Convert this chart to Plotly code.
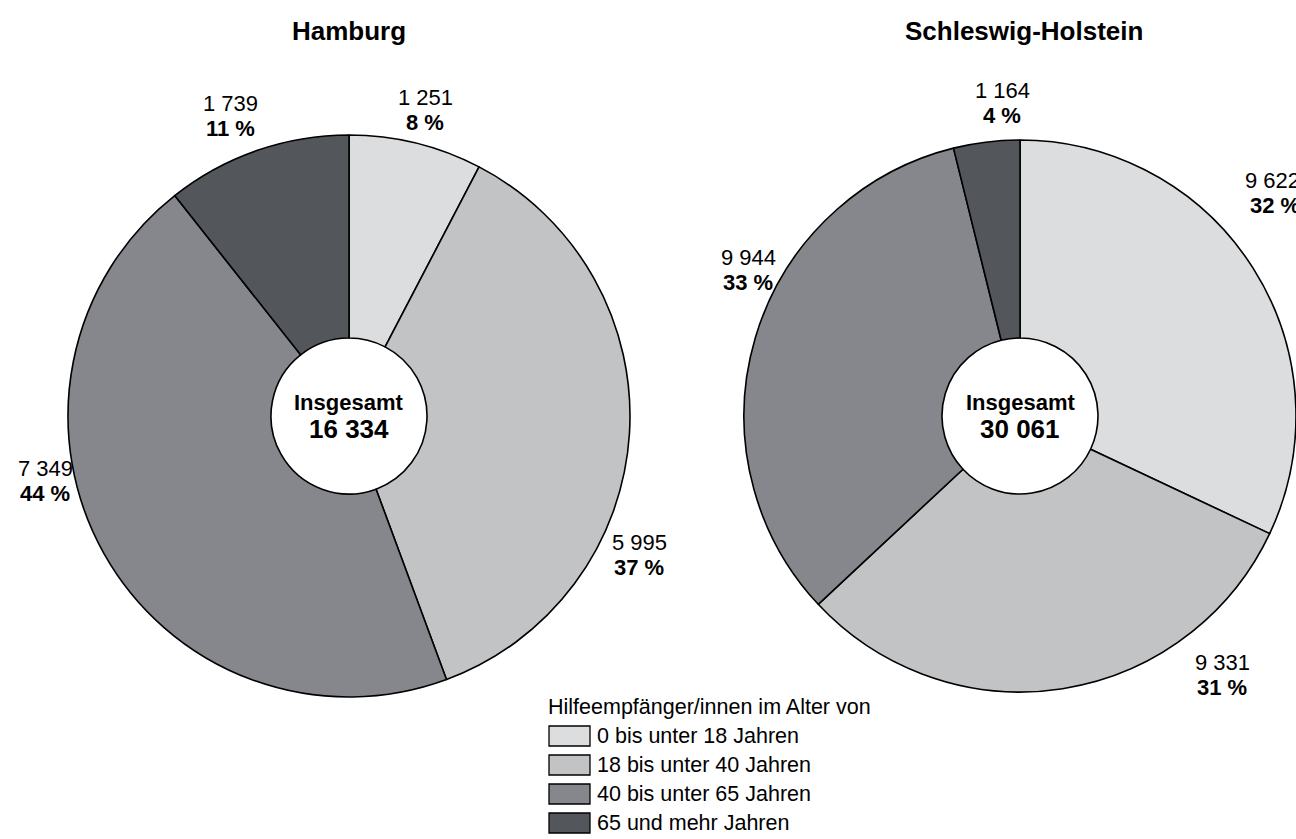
import plotly.graph_objects as go

# ---------------- data ----------------
categories = ["0 bis unter 18 Jahren", "18 bis unter 40 Jahren",
              "40 bis unter 65 Jahren", "65 und mehr Jahren"]
hamburg_values = [1251, 5995, 7349, 1739]
hamburg_pct = [8, 37, 44, 11]
sh_values = [9622, 9331, 9944, 1164]
sh_pct = [32, 31, 33, 4]
regions = ["Hamburg", "Schleswig-Holstein"]
legend_title = "Hilfeempfänger/innen im Alter von"
center_label = "Insgesamt"

colors = ["#dcdddf", "#c2c3c5", "#86878c", "#53575b"]

# ---------------- layout helpers ----------------
W, H = 1296, 839
FONT = "Liberation Sans, Arial, sans-serif"


def px(x):
    """pixel x -> paper fraction"""
    return x / W


def py(y):
    """pixel y -> paper fraction"""
    return 1 - y / H


def fmt(v):
    return f"{v:,}".replace(",", " ")


# pie geometry (pixels)
pies = [
    dict(cx=349, cy=416, r=281, values=hamburg_values, pct=hamburg_pct, name=regions[0],
         offs=[(76, -306), (290, 139), (-304, 65), (-118, -300)],
         anchors=["center", "center", "center", "center"]),
    dict(cx=1020, cy=416, r=276, values=sh_values, pct=sh_pct, name=regions[1],
         offs=[(282, -223), (202, 259), (-272, -146), (-18, -313)],
         anchors=["right", "center", "center", "center"]),
]
title_x = [349, 1024]

hole_px = 78
LBL = 22

fig = go.Figure()
annotations = []
shapes = []

for p, tx in zip(pies, title_x):
    fig.add_trace(go.Pie(
        labels=categories,
        values=p["values"],
        sort=False,
        direction="clockwise",
        rotation=0,
        hole=hole_px / p["r"],
        marker=dict(colors=colors, line=dict(color="black", width=1.6)),
        textinfo="none",
        hoverinfo="label+value+percent",
        showlegend=False,
        domain=dict(x=[max(0, px(p["cx"] - p["r"])), min(1, px(p["cx"] + p["r"]))],
                    y=[py(p["cy"] + p["r"]), py(p["cy"] - p["r"])]),
    ))
    # title
    annotations.append(dict(x=px(tx), y=py(31), xref="paper", yref="paper",
                            text=f"<b>{p['name']}</b>", showarrow=False,
                            font=dict(size=26, family=FONT, color="black"),
                            xanchor="center", yanchor="middle"))
    # centre total
    total = sum(p["values"])
    annotations.append(dict(x=px(p["cx"]), y=py(p["cy"] - 13), xref="paper", yref="paper",
                            text=f"<b>{center_label}</b>", showarrow=False,
                            font=dict(size=22, family=FONT, color="black"),
                            xanchor="center", yanchor="middle"))
    annotations.append(dict(x=px(p["cx"]), y=py(p["cy"] + 13), xref="paper", yref="paper",
                            text=f"<b>{fmt(total)}</b>", showarrow=False,
                            font=dict(size=26, family=FONT, color="black"),
                            xanchor="center", yanchor="middle"))
    # slice labels
    for v, pc, (dx, dy), anc in zip(p["values"], p["pct"], p["offs"], p["anchors"]):
        annotations.append(dict(x=px(p["cx"] + dx), y=py(p["cy"] + dy - 12.5), xref="paper", yref="paper",
                                text=fmt(v), showarrow=False,
                                font=dict(size=LBL, family=FONT, color="black"),
                                xanchor=anc, yanchor="middle"))
        annotations.append(dict(x=px(p["cx"] + dx), y=py(p["cy"] + dy + 12.5), xref="paper", yref="paper",
                                text=f"<b>{pc} %</b>", showarrow=False,
                                font=dict(size=LBL, family=FONT, color="black"),
                                xanchor=anc, yanchor="middle"))

# custom legend
lx, ly0, row_h = 549, 707, 29
annotations.append(dict(x=px(lx - 3), y=py(ly0), xref="paper", yref="paper", text=legend_title,
                        showarrow=False, font=dict(size=21.5, family=FONT, color="black"),
                        xanchor="left", yanchor="middle"))
for i, (cat, col) in enumerate(zip(categories, colors)):
    yc = ly0 + row_h * (i + 1)
    shapes.append(dict(type="rect", xref="paper", yref="paper",
                       x0=px(lx), x1=px(lx + 41), y0=py(yc - 10), y1=py(yc + 10),
                       fillcolor=col, line=dict(color="black", width=1.3)))
    annotations.append(dict(x=px(lx + 46), y=py(yc), xref="paper", yref="paper", text=cat,
                            showarrow=False, font=dict(size=21.5, family=FONT, color="black"),
                            xanchor="left", yanchor="middle"))

fig.update_layout(
    width=W, height=H,
    margin=dict(l=0, r=0, t=0, b=0, pad=0),
    paper_bgcolor="white", plot_bgcolor="white",
    annotations=annotations, shapes=shapes,
    font=dict(family=FONT),
)

fig.write_html(
    "out.html",
    config={"displayModeBar": False},
    post_script="document.body.style.margin='0px';"
                "document.body.style.overflow='hidden';"
                "document.documentElement.style.overflow='hidden';",
)
